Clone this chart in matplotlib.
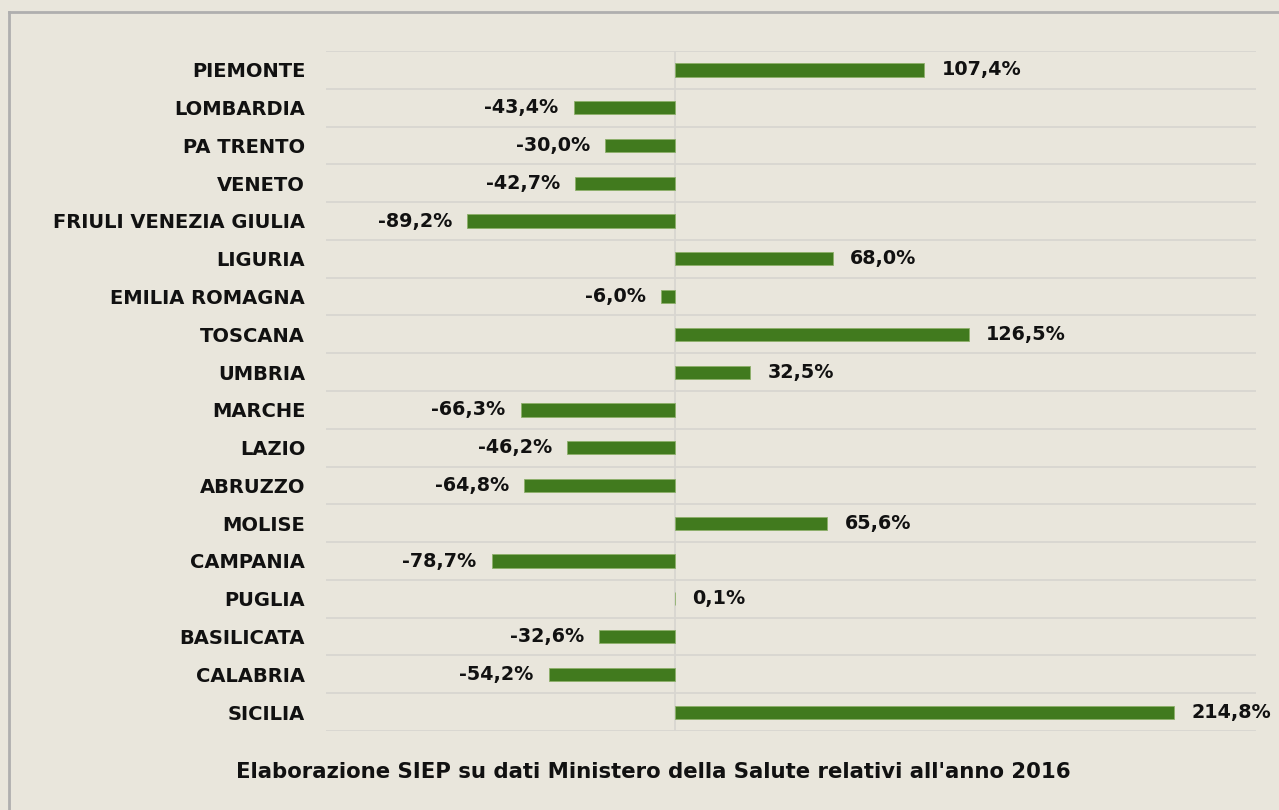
import numpy as np
import matplotlib.pyplot as plt
from matplotlib.lines import Line2D

regions = ["PIEMONTE", "LOMBARDIA", "PA TRENTO", "VENETO", "FRIULI VENEZIA GIULIA",
           "LIGURIA", "EMILIA ROMAGNA", "TOSCANA", "UMBRIA", "MARCHE", "LAZIO",
           "ABRUZZO", "MOLISE", "CAMPANIA", "PUGLIA", "BASILICATA", "CALABRIA", "SICILIA"]
values = [107.4, -43.4, -30.0, -42.7, -89.2, 68.0, -6.0, 126.5, 32.5, -66.3,
          -46.2, -64.8, 65.6, -78.7, 0.1, -32.6, -54.2, 214.8]
caption = "Elaborazione SIEP su dati Ministero della Salute relativi all'anno 2016"

bg = "#E9E6DC"
green = "#417A1E"

fig = plt.figure(figsize=(12.79, 8.10), dpi=100, facecolor=bg)
ax = fig.add_axes([326 / 1279, 1 - 731 / 810, (1256 - 326) / 1279, (731 - 51) / 810])
ax.set_facecolor(bg)

n = len(regions)
y = np.arange(n)
ax.barh(y, values, height=0.35, color=green, edgecolor="#8DB06A", linewidth=0.6, zorder=3)

ax.set_xlim(-150, 250)
ax.set_ylim(n - 0.5, -0.5)

# horizontal separators between categories
for b in np.arange(-0.5, n, 1.0):
    ax.axhline(b, color="#D8D6D0", lw=1.3, zorder=1)
ax.axvline(0, color="#D8D6D0", lw=1.3, zorder=1)

for s in ax.spines.values():
    s.set_visible(False)
ax.set_xticks([])
ax.set_yticks(y)
ax.set_yticklabels(regions, fontsize=14, fontweight="bold", color="#111111")
ax.tick_params(axis="y", length=0, pad=15)

for yi, v in zip(y, values):
    txt = f"{v:.1f}%".replace(".", ",")
    if v >= 0:
        ax.text(v + 7.5, yi, txt, ha="left", va="center", fontsize=13.8,
                fontweight="bold", color="#111111")
    else:
        ax.text(v - 6.5, yi, txt, ha="right", va="center", fontsize=13.8,
                fontweight="bold", color="#111111")

fig.text(653 / 1279, 1 - 772 / 810, caption, ha="center", va="center",
         fontsize=15.3, fontweight="bold", color="#111111")

# gray frame (top and left edge)
fig.add_artist(Line2D([9 / 1279, 1], [1 - 11.5 / 810] * 2, transform=fig.transFigure,
                      color="#AFAFAF", lw=2))
fig.add_artist(Line2D([9 / 1279] * 2, [0, 1 - 11.5 / 810], transform=fig.transFigure,
                      color="#AFAFAF", lw=2))

fig.savefig("out.png", dpi=100, facecolor=bg)
